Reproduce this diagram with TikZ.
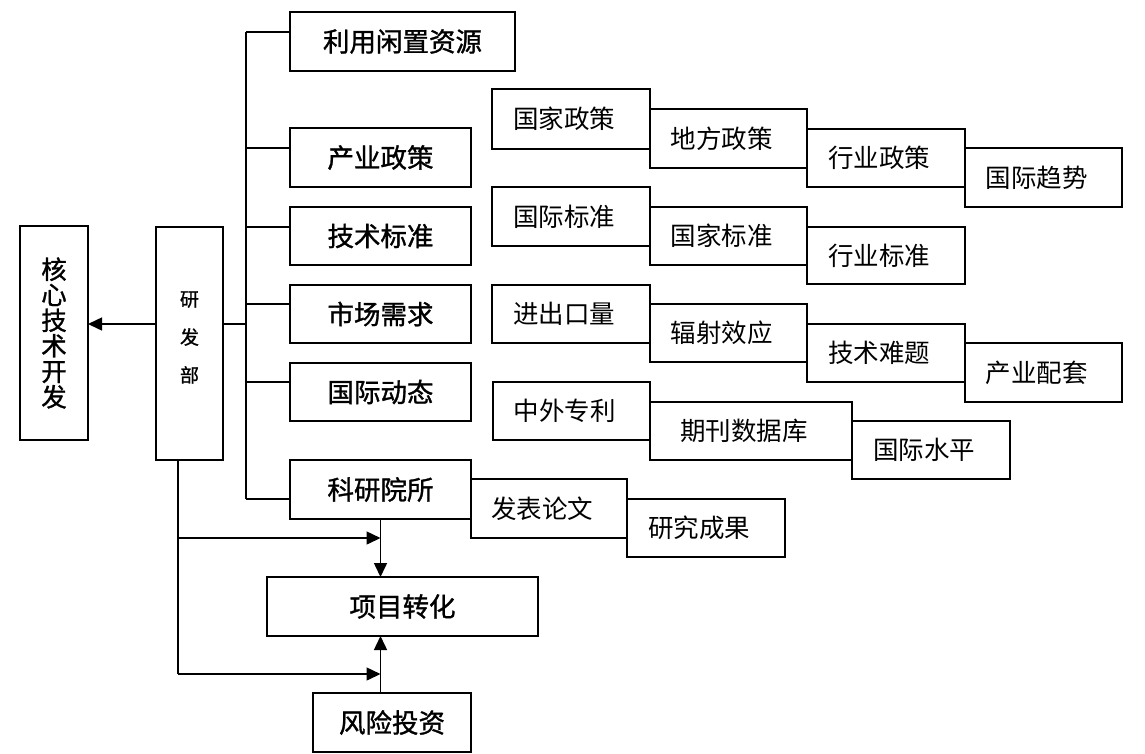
\documentclass[tikz,border=0pt]{standalone}
\usepackage{fontspec}
\newfontfamily\cjk{Noto Sans CJK SC}
\newfontfamily\cjkb{Noto Sans CJK SC}[FakeBold=1.2]
\usetikzlibrary{arrows.meta}
\begin{document}
\begin{tikzpicture}[x=1pt,y=-1pt,
  box/.style={draw, line width=1.5pt, inner sep=0pt, outer sep=0pt, anchor=north west},
  mainbox/.style={box, font=\cjkb\fontsize{26.5}{28}\selectfont},
  subbox/.style={box, font=\cjk\fontsize{25.5}{28}\selectfont, execute at end node={\hspace*{14pt}}},
  ln/.style={line width=1.5pt},
  arr/.style={line width=1.5pt, -{Triangle[length=14pt,width=13pt]}}]
\useasboundingbox (0,0) rectangle (1145,753);
% left column
\node[box, minimum width=68pt, minimum height=214pt, align=center,
  font=\cjkb\fontsize{25.5}{25.5}\selectfont] (hx) at (20,226) {核\\心\\技\\术\\开\\发};
\node[box, minimum width=67pt, minimum height=233pt,
  label={[font=\cjkb\fontsize{19}{38}\selectfont, align=center, yshift=6pt]center:研\\发\\部}] (yfb) at (156,227) {};
% main branch boxes
\node[mainbox, minimum width=225pt, minimum height=59pt] (lyxz) at (290,12) {利用闲置资源};
\node[mainbox, minimum width=181pt, minimum height=59pt] (cyzc) at (290,128) {产业政策};
\node[mainbox, minimum width=181pt, minimum height=58pt] (jsbz) at (290,207) {技术标准};
\node[mainbox, minimum width=181pt, minimum height=58pt] (scxq) at (290,285) {市场需求};
\node[mainbox, minimum width=181pt, minimum height=58pt] (gjdt) at (290,363) {国际动态};
\node[mainbox, minimum width=181pt, minimum height=59pt] (kyys) at (290,460) {科研院所};
\node[mainbox, minimum width=271pt, minimum height=59pt] (xmzh) at (267,577) {项目转化};
\node[mainbox, minimum width=158pt, minimum height=59pt] (fxtz) at (313,693) {风险投资};
% cascades
\node[subbox, minimum width=158pt, minimum height=60pt] (gjzc) at (492,89) {国家政策};
\node[subbox, minimum width=157pt, minimum height=59pt] (dfzc) at (650,109) {地方政策};
\node[subbox, minimum width=158pt, minimum height=58pt] (hyzc) at (807,129) {行业政策};
\node[subbox, minimum width=157pt, minimum height=59pt] (gjqs) at (965,148) {国际趋势};
\node[subbox, minimum width=158pt, minimum height=59pt] (gjbz) at (492,187) {国际标准};
\node[subbox, minimum width=157pt, minimum height=58pt] (gjbzb) at (650,207) {国家标准};
\node[subbox, minimum width=158pt, minimum height=57pt] (hybz) at (807,227) {行业标准};
\node[subbox, minimum width=158pt, minimum height=58pt] (jckl) at (492,285) {进出口量};
\node[subbox, minimum width=157pt, minimum height=58pt] (fsxy) at (650,304) {辐射效应};
\node[subbox, minimum width=158pt, minimum height=58pt] (jsnt) at (807,324) {技术难题};
\node[subbox, minimum width=157pt, minimum height=59pt] (cypt) at (965,343) {产业配套};
\node[subbox, minimum width=157pt, minimum height=58pt] (zwzl) at (493,382) {中外专利};
\node[subbox, minimum width=202pt, minimum height=58pt] (qksjk) at (650,402) {期刊数据库};
\node[subbox, minimum width=158pt, minimum height=58pt] (gjsp) at (852,421) {国际水平};
\node[subbox, minimum width=156pt, minimum height=59pt] (fblw) at (471,479) {发表论文};
\node[subbox, minimum width=158pt, minimum height=58pt] (yjcg) at (627,499) {研究成果};
% trunk coordinates
\coordinate (t0) at (246,324);
\coordinate (t1) at (246,32);
\coordinate (t2) at (246,148);
\coordinate (t3) at (246,227);
\coordinate (t4) at (246,304);
\coordinate (t5) at (246,382);
\coordinate (t6) at (246,499);
\coordinate (b1) at (178,538);
\coordinate (b2) at (178,674);
% connectors
\draw[ln] (t1) -- (t6);
\draw[ln] (yfb.east |- t0) -- (t0);
\draw[arr] (yfb.west |- t0) -- (hx.east |- t0);
\draw[ln] (t1) -- (t1 -| lyxz.west);
\draw[ln] (t2) -- (t2 -| cyzc.west);
\draw[ln] (t3) -- (t3 -| jsbz.west);
\draw[ln] (t4) -- (t4 -| scxq.west);
\draw[ln] (t5) -- (t5 -| gjdt.west);
\draw[ln] (t6) -- (t6 -| kyys.west);
\draw[ln] (b1 |- yfb.south) -- (b2);
\draw[arr] (kyys.south) -- (kyys.south |- xmzh.north);
\draw[arr] (fxtz.north -| kyys.south) -- (kyys.south |- xmzh.south);
\draw[arr] (b1) -- (b1 -| kyys.south);
\draw[arr] (b2) -- (b2 -| kyys.south);
\end{tikzpicture}
\end{document}
